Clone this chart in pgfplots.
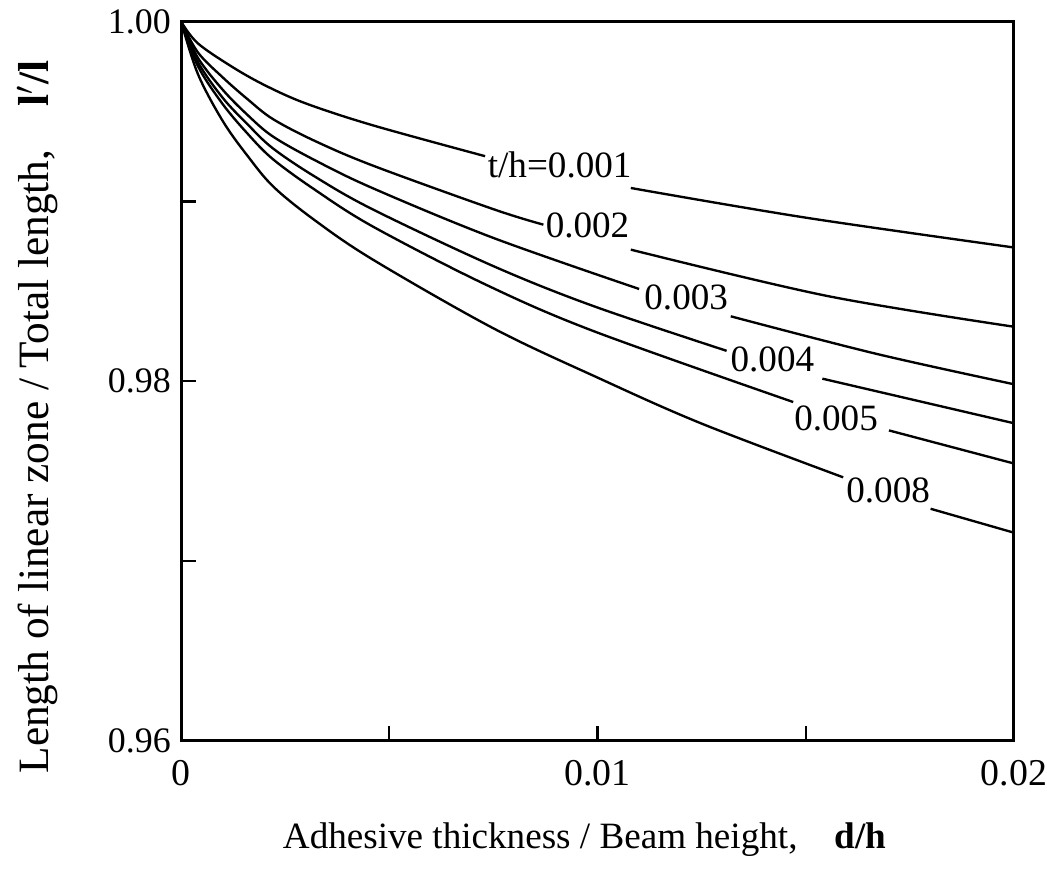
\documentclass[border=0pt]{standalone}
\usepackage{fontspec}
\setmainfont{Liberation Serif}
\usepackage{pgfplots}
\pgfplotsset{compat=1.18}
\tikzset{
  curvelabel/.style={font=\fontsize{15}{18}\selectfont, inner sep=0pt},
  curve/.style={black, solid, line width=0.95pt, smooth, tension=0.55},
}

\begin{document}
\begin{tikzpicture}
\begin{axis}[
  at={(0,0)}, anchor=south west,
  scale only axis, width=336.4pt, height=290.4pt,
  xmin=0, xmax=0.02, ymin=0.96, ymax=1.0,
  axis line style={line width=1.2pt},
  scaled x ticks=false, scaled y ticks=false,
  xtick={0,0.01,0.02}, xticklabels={0,0.01,0.02},
  minor xtick={0.005,0.015},
  ytick={0.96,0.98,1.0}, yticklabels={0.96,0.98,1.00},
  minor ytick={0.97,0.99},
  tick align=inside, xtick pos=bottom, ytick pos=left,
  major tick length=6pt, minor tick length=6pt,
  every tick/.style={line width=0.9pt, black},
  x tick label style={font=\fontsize{15.3}{18}\selectfont, anchor=center, inner sep=0pt, yshift=-13.2pt},
  y tick label style={font=\fontsize{14.5}{17}\selectfont, anchor=east, inner sep=0pt, xshift=-4pt},
  xlabel={Adhesive thickness / Beam height,\quad\textbf{d/h}},
  ylabel={Length of linear zone / Total length,\quad\textbf{l$'$/l}},
  x label style={font=\fontsize{15}{18}\selectfont, at={(axis description cs:0.4845,-0.138)}, anchor=center, inner sep=0pt},
  y label style={font=\fontsize{17.5}{20}\selectfont, at={(axis description cs:-0.1724,0.45)}, anchor=center, inner sep=0pt},
]
% t/h = 0.001 (two pieces, broken where the label sits)
\addplot[curve] coordinates {(0,1) (0.0004,0.9988) (0.00126,0.99744) (0.00205,0.99642) (0.003,0.99545) (0.0046,0.99424) (0.0073,0.99252)};
\addplot[curve] coordinates {(0.0108,0.99075) (0.015,0.9891) (0.02,0.98744)};
% t/h = 0.002
\addplot[curve] coordinates {(0,1) (0.0004,0.9983) (0.001,0.9969) (0.0016,0.99568) (0.0022,0.99459) (0.0032,0.99338) (0.0046,0.9920) (0.0075,0.98957) (0.0087,0.98871)};
\addplot[curve] coordinates {(0.0108,0.98732) (0.0155,0.98475) (0.02,0.98303)};
% t/h = 0.003
\addplot[curve] coordinates {(0,1) (0.0004,0.998) (0.001,0.99621) (0.0016,0.9948) (0.0022,0.99362) (0.0032,0.99231) (0.0046,0.99074) (0.0075,0.98797) (0.011,0.98513)};
\addplot[curve] coordinates {(0.0132,0.98361) (0.0167,0.98152) (0.02,0.97983)};
% t/h = 0.004
\addplot[curve] coordinates {(0,1) (0.0004,0.99776) (0.001,0.99576) (0.0016,0.99428) (0.0022,0.99296) (0.0032,0.9914) (0.0046,0.98956) (0.0075,0.9864) (0.0099,0.98418) (0.0131,0.98169)};
\addplot[curve] coordinates {(0.0154,0.98014) (0.02,0.97766)};
% t/h = 0.005
\addplot[curve] coordinates {(0,1) (0.0004,0.99754) (0.001,0.99541) (0.0016,0.99376) (0.0022,0.99236) (0.0032,0.99067) (0.0046,0.98861) (0.0073,0.98539) (0.0099,0.98279) (0.0147,0.97884)};
\addplot[curve] coordinates {(0.017,0.97726) (0.02,0.97542)};
% t/h = 0.008
\addplot[curve] coordinates {(0,1) (0.0004,0.9971) (0.001,0.99447) (0.0016,0.99252) (0.00222,0.99081) (0.0032,0.98897) (0.0046,0.98677) (0.0075,0.98294) (0.01,0.9802) (0.0125,0.97764) (0.0159,0.97465)};
\addplot[curve] coordinates {(0.018,0.9729) (0.02,0.97157)};

\node[curvelabel] at (axis cs:0.00909,0.99201) {t/h=0.001};
\node[curvelabel] at (axis cs:0.00976,0.98865) {0.002};
\node[curvelabel] at (axis cs:0.01213,0.98468) {0.003};
\node[curvelabel] at (axis cs:0.0142,0.98121) {0.004};
\node[curvelabel] at (axis cs:0.01573,0.97791) {0.005};
\node[curvelabel] at (axis cs:0.01698,0.97394) {0.008};
\end{axis}
\path (-73.2pt,-56pt) rectangle (345.6pt,299.2pt);
\end{tikzpicture}
\end{document}
